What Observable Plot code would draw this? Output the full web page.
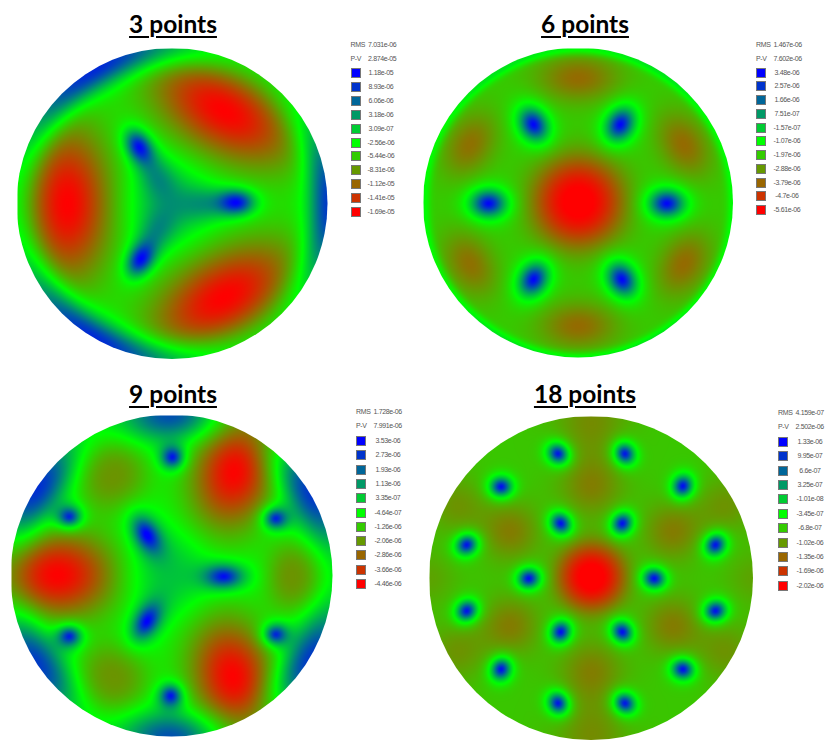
<!DOCTYPE html>
<html><head><meta charset="utf-8">
<script src="https://cdn.jsdelivr.net/npm/d3@7"></script>
<script src="https://cdn.jsdelivr.net/npm/@observablehq/plot@0.6"></script>
<style>
html,body{margin:0;padding:0;background:#fff}
#root{position:relative;width:829px;height:750px;overflow:hidden}
.disc{position:absolute}
.disc svg{display:block;clip-path:circle(50%)}
.title{position:absolute;transform:translateX(-50%);font:700 24.5px Lato,"Noto Sans",sans-serif;color:#000;text-decoration:underline;text-decoration-thickness:2px;text-underline-offset:3px;white-space:nowrap;line-height:30px}
.lg{position:absolute;font:7px "Liberation Sans",sans-serif;letter-spacing:-0.35px;color:#555;white-space:nowrap;line-height:10px}
.sw{position:absolute;width:8px;height:8px;border:1px solid #777;box-sizing:content-box}
</style></head><body><div id="root"></div>
<script>
// Legend colours (shared by all four maps), top swatch first
const swatchColors = ["#0000ff","#0033cc","#006699","#009966","#00cc33","#00ff00","#33cc00","#669900","#996600","#cc3300","#ff0000"];

// Legend labels
const titles = ["3 points","6 points","9 points","18 points"];
const rmsLabels = ["7.031e-06","1.467e-06","1.728e-06","4.159e-07"];
const pvLabels = ["2.874e-05","7.602e-06","7.991e-06","2.502e-06"];
const levels3 = ["1.18e-05","8.93e-06","6.06e-06","3.18e-06","3.09e-07","-2.56e-06","-5.44e-06","-8.31e-06","-1.12e-05","-1.41e-05","-1.69e-05"];
const levels6 = ["3.48e-06","2.57e-06","1.66e-06","7.51e-07","-1.57e-07","-1.07e-06","-1.97e-06","-2.88e-06","-3.79e-06","-4.7e-06","-5.61e-06"];
const levels9 = ["3.53e-06","2.73e-06","1.93e-06","1.13e-06","3.35e-07","-4.64e-07","-1.26e-06","-2.06e-06","-2.86e-06","-3.66e-06","-4.46e-06"];
const levels18 = ["1.33e-06","9.95e-07","6.6e-07","3.25e-07","-1.01e-08","-3.45e-07","-6.8e-07","-1.02e-06","-1.35e-06","-1.69e-06","-2.02e-06"];

// Surface features: position (% of radius), value (micro-units),
// extent along / across the axis at the given angle (% of radius, degrees), and top flatness
const base3 = -2.56;
const x3 = [-68, 33, 33, 41, -22, -21, -3, 22, -11, -11];
const y3 = [0, 60, -60, 1, 37, -36, 0, 0, 19, -19];
const v3 = [-16.9, -16.9, -16.9, 11.8, 11.8, 11.8, 1.5, 2, 2, 2];
const sa3 = [21, 21, 21, 8, 8, 8, 18, 12, 12, 12];
const sb3 = [38, 38, 38, 5.5, 5.5, 5.5, 18, 8, 8, 8];
const ang3 = [0, 60, -60, 0, 120, -120, 0, 0, 120, -120];
const pw3 = [1, 1, 1, 0.9, 0.9, 0.9, 1.2, 1, 1, 1];
const rimAng3 = [120, 0, 240];
const rimVal3 = [11, 10, 11];
const rimR3 = [9.5, 9.5, 9.5];
const rimT3 = [30, 25, 30];

const base6 = -1.97;
const x6 = [-58, 57, -29, 27, -29, 28, 0, 0, 0, -70, 68, -70, 68];
const y6 = [0, 0, 51, 51, -49, -49, 1, 81, -79, 38, 38, -39, -39];
const v6 = [3.48, 3.48, 3.48, 3.48, 3.48, 3.48, -5.8, -3.7, -3.7, -3.6, -3.7, -3.6, -3.7];
const sa6 = [8, 8, 8, 8, 8, 8, 21, 19, 18, 11, 11, 11, 11];
const sb6 = [6.2, 6.2, 6.2, 6.2, 6.2, 6.2, 21, 11, 11, 16, 16, 16, 16];
const ang6 = [0, 0, 120, 60, -120, -60, 0, 0, 0, 150, 30, 210, -30];
const pw6 = [0.8, 0.8, 0.8, 0.8, 0.8, 0.8, 1.3, 1, 1, 1, 1, 1, 1];
const rimAng6 = [0, 60, 120, 180, 240, 300];
const rimVal6 = [-1.25, -0.8, -0.8, -1.25, -0.8, -0.8];
const rimR6 = [3, 3, 3, 3, 3, 3];
const rimT6 = [30, 30, 30, 30, 30, 30];

const base9 = -0.46;
const x9 = [-72, 39, 38, -38, -38, 76, -16, 32, -16, -3, 0, -64, 64, -64, 64, -1];
const y9 = [1, 66, -63, 64, -64, 0, 26, 0, -28, 2, 74, 37, 36, -37, -36, -74];
const v9 = [-4.46, -4.46, -4.46, -2.15, -2.15, -2.15, 3.6, 3.6, 3.6, 0.6, 3.6, 3.6, 3.6, 3.6, 3.6, 3.6];
const sa9 = [27, 27, 27, 17, 17, 13, 8.5, 8.5, 8.5, 20, 4.8, 5.2, 5.2, 5.2, 5.2, 4.8];
const sb9 = [20, 19, 19, 17, 17, 17, 5.2, 5.2, 5.2, 20, 4.8, 4.6, 4.6, 4.6, 4.6, 4.8];
const ang9 = [0, 75, -75, 0, 0, 0, 120, 0, -120, 0, 0, 0, 0, 0, 0, 0];
const pw9 = [1, 1, 1, 1.3, 1.3, 1.3, 0.8, 0.8, 0.8, 1.2, 0.8, 0.8, 0.8, 0.8, 0.8, 0.8];
const rimAng9 = [90, 32, 148, 212, 270, 328];
const rimVal9 = [2.4, 2.8, 2.9, 2.7, 2.4, 2.8];
const rimR9 = [11, 11, 11, 11, 11, 11];
const rimT9 = [12, 14, 14, 14, 12, 14];

const base18 = -0.72;
const x18 = [-20.6, 20.6, -55.8, 56.4, -77, 76.5, -77, 76.5, -55.8, 56.4, -20.6, 20.6, -19, 19, -38.7, 38.7, -19, 19, 0, -50, 50, -50, 50, 0, 0, -83, 83, -83, 83, 0, 0, -100, 100];
const y18 = [77, 77, 56.6, 57, 20.8, 20.8, -20, -20, -56, -56, -77, -77, 34, 34, 0, 0, -33, -33, 1, 29, 29, -29, -29, 57, -57, 45, 45, -45, -45, 97, -97, 0, 0];
const v18 = [1.33, 1.33, 1.33, 1.33, 1.33, 1.33, 1.33, 1.33, 1.33, 1.33, 1.33, 1.33, 1.33, 1.33, 1.33, 1.33, 1.33, 1.33, -2.1, -1.2, -1.2, -1.2, -1.2, -1.18, -1.18, -1.05, -1.05, -1.05, -1.05, -1.1, -1.1, -0.95, -0.95];
const sa18 = [4.8, 4.8, 4.8, 4.8, 4.8, 4.8, 4.8, 4.8, 4.8, 4.8, 4.8, 4.8, 4.8, 4.8, 4.8, 4.8, 4.8, 4.8, 15, 13, 13, 13, 13, 14, 14, 13, 13, 13, 13, 16, 16, 12, 12];
const sb18 = [4.3, 4.3, 4.3, 4.3, 4.3, 4.3, 4.3, 4.3, 4.3, 4.3, 4.3, 4.3, 4.3, 4.3, 4.3, 4.3, 4.3, 4.3, 15, 13, 13, 13, 13, 14, 14, 13, 13, 13, 13, 16, 16, 12, 12];
const ang18 = [-40, -60, 0, 70, 30, 50, 40, 20, 70, -10, -60, -40, -50, 55, 10, -10, 65, -50, 0, 0, 0, 0, 0, 0, 0, 0, 0, 0, 0, 0, 0, 0, 0];
const pw18 = [0.8, 0.8, 0.8, 0.8, 0.8, 0.8, 0.8, 0.8, 0.8, 0.8, 0.8, 0.8, 0.8, 0.8, 0.8, 0.8, 0.8, 0.8, 1.35, 1, 1, 1, 1, 1, 1, 1, 1, 1, 1, 1, 1, 1, 1];
const rimAng18 = [];
const rimVal18 = [];
const rimR18 = [];
const rimT18 = [];

// Page layout: disc centre and radius, title, legend position and row step
const layout = [
  {cx:172, cy:203.5, r:155.5, tx:173, ty:9, lx:350.5, ly:45, ry:73.3, step:13.84, vx:381},
  {cx:578, cy:202.5, r:155, tx:585, ty:9, lx:756, ly:45, ry:72.7, step:13.75, vx:787},
  {cx:171.5, cy:575.5, r:161, tx:173, ty:379, lx:356, ly:411.7, ry:441, step:14.3, vx:388},
  {cx:591, cy:578, r:162, tx:585, ty:379, lx:778, ly:412.7, ry:442, step:14.37, vx:810}
];

const panels = [
  {base:base3, x:x3, y:y3, v:v3, sa:sa3, sb:sb3, ang:ang3, pw:pw3, ra:rimAng3, rv:rimVal3, rr:rimR3, rt:rimT3, levels:levels3},
  {base:base6, x:x6, y:y6, v:v6, sa:sa6, sb:sb6, ang:ang6, pw:pw6, ra:rimAng6, rv:rimVal6, rr:rimR6, rt:rimT6, levels:levels6},
  {base:base9, x:x9, y:y9, v:v9, sa:sa9, sb:sb9, ang:ang9, pw:pw9, ra:rimAng9, rv:rimVal9, rr:rimR9, rt:rimT9, levels:levels9},
  {base:base18, x:x18, y:y18, v:v18, sa:sa18, sb:sb18, ang:ang18, pw:pw18, ra:rimAng18, rv:rimVal18, rr:rimR18, rt:rimT18, levels:levels18}
];

function surface(p) {
  const cos = p.ang.map(a => Math.cos(a * Math.PI / 180));
  const sin = p.ang.map(a => Math.sin(a * Math.PI / 180));
  return (x, y) => {
    let f = p.base;
    for (let i = 0; i < p.x.length; i++) {
      const dx = x - p.x[i], dy = y - p.y[i];
      const u = (dx * cos[i] + dy * sin[i]) / p.sa[i];
      const w = (-dx * sin[i] + dy * cos[i]) / p.sb[i];
      f += (p.v[i] - p.base) * Math.exp(-Math.pow((u * u + w * w) / 2, p.pw[i]));
    }
    const rad = Math.hypot(x, y), th = Math.atan2(y, x) * 180 / Math.PI;
    for (let i = 0; i < p.ra.length; i++) {
      let d = Math.abs(th - p.ra[i]) % 360; if (d > 180) d = 360 - d;
      const u = (100 - rad) / p.rr[i], w = d / p.rt[i];
      f += (p.rv[i] - p.base) * Math.exp(-(u * u + w * w) / 2);
    }
    return f;
  };
}

const root = document.getElementById("root");
function add(cls, text, css) {
  const e = document.createElement("div");
  e.className = cls; if (text) e.textContent = text;
  Object.assign(e.style, css); root.appendChild(e); return e;
}

panels.forEach((p, k) => {
  const L = layout[k], size = Math.round(2 * L.r);
  const domain = p.levels.map(s => +s * 1e6).reverse();
  const range = swatchColors.slice().reverse();
  const chart = Plot.plot({
    width: size, height: size, margin: 0,
    x: {domain: [-100, 100], axis: null},
    y: {domain: [-100, 100], axis: null},
    color: {type: "linear", domain, range, clamp: true, interpolate: "rgb"},
    marks: [Plot.raster({fill: surface(p), x1: -100, x2: 100, y1: -100, y2: 100, pixelSize: 1})]
  });
  const d = add("disc", "", {left: (L.cx - L.r) + "px", top: (L.cy - L.r) + "px"});
  d.appendChild(chart);
  add("title", titles[k], {left: L.tx + "px", top: L.ty + "px"});
  add("lg", "RMS", {left: L.lx + "px", top: (L.ly - 5) + "px"});
  add("lg", rmsLabels[k], {left: (L.lx + 17.5) + "px", top: (L.ly - 5) + "px"});
  add("lg", "P-V", {left: L.lx + "px", top: (L.ly + L.step - 5) + "px"});
  add("lg", pvLabels[k], {left: (L.lx + 17.5) + "px", top: (L.ly + L.step - 5) + "px"});
  p.levels.forEach((s, i) => {
    const yy = L.ry + i * L.step;
    add("sw", "", {left: L.lx + "px", top: (yy - 5) + "px", background: swatchColors[i]});
    add("lg", s, {left: (L.vx - 25) + "px", width: "50px", textAlign: "center", top: (yy - 5) + "px"});
  });
});
</script></body></html>
